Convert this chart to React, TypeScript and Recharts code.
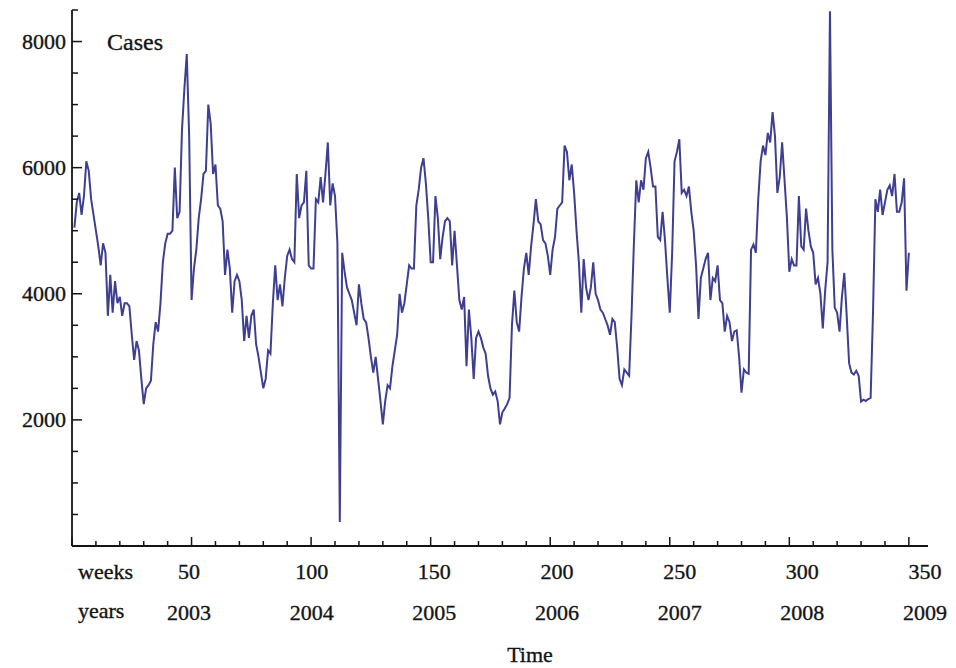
import React from 'react';
import { LineChart, Line, XAxis, YAxis } from 'recharts';

// Weekly cases, weeks 1..350
const cases = [
  5050, 5450, 5600, 5250, 5550, 6100, 5950, 5500, 5250, 5000,
  4750, 4450, 4800, 4650, 3650, 4300, 3700, 4200, 3850, 3950,
  3650, 3850, 3850, 3800, 3350, 2950, 3250, 3100, 2650, 2250,
  2500, 2550, 2620, 3200, 3550, 3400, 3850, 4500, 4800, 4950,
  4950, 5000, 6000, 5200, 5300, 6600, 7250, 7800, 6500, 3900,
  4400, 4700, 5200, 5500, 5900, 5950, 7000, 6700, 5900, 6050,
  5400, 5350, 5150, 4300, 4700, 4400, 3700, 4200, 4300, 4200,
  3900, 3250, 3650, 3300, 3650, 3750, 3200, 3000, 2750, 2500,
  2650, 3100, 3050, 3850, 4450, 3900, 4150, 3800, 4250, 4600,
  4700, 4550, 4500, 5900, 5200, 5400, 5450, 5950, 4450, 4400,
  4400, 5500, 5450, 5850, 5450, 5900, 6400, 5400, 5750, 5550,
  4800, 380, 4650, 4350, 4100, 4000, 3900, 3700, 3500, 4150,
  3850, 3600, 3550, 3300, 3000, 2750, 3000, 2650, 2300, 1930,
  2300, 2550, 2500, 2850, 3100, 3350, 4000, 3700, 3850, 4150,
  4450, 4400, 4400, 5400, 5650, 6000, 6150, 5750, 5200, 4500,
  4500, 5550, 5200, 4550, 4900, 5150, 5200, 5150, 4450, 5000,
  4450, 3900, 3750, 3950, 2850, 3750, 3300, 2650, 3300, 3400,
  3300, 3150, 3050, 2700, 2500, 2400, 2450, 2300, 1930, 2120,
  2180, 2250, 2350, 3500, 4050, 3550, 3400, 3950, 4400, 4650,
  4300, 4750, 5100, 5500, 5150, 5100, 4850, 4800, 4600, 4300,
  4700, 4900, 5350, 5400, 5450, 6350, 6250, 5800, 6050, 5600,
  5000, 4500, 3700, 4550, 4100, 3900, 4100, 4500, 4000, 3900,
  3750, 3700, 3600, 3500, 3350, 3600, 3550, 3150, 2650, 2550,
  2800, 2750, 2700, 3650, 4800, 5800, 5450, 5800, 5650, 6150,
  6250, 6000, 5700, 5700, 4900, 4850, 5300, 4850, 4250, 3700,
  4650, 6100, 6250, 6450, 5600, 5650, 5550, 5700, 5300, 5000,
  4450, 3600, 4250, 4400, 4550, 4650, 3900, 4250, 4200, 4450,
  3900, 3850, 3400, 3650, 3550, 3250, 3400, 3420, 3000, 2430,
  2800, 2750, 2730, 4700, 4780, 4650, 5500, 6100, 6350, 6200,
  6550, 6400, 6880, 6500, 5600, 5850, 6400, 5800, 5200, 4350,
  4550, 4450, 4450, 5550, 4750, 4700, 5350, 5000, 4750, 4650,
  4150, 4250, 4000, 3450, 4050, 4500, 8480, 4700, 3780, 3700,
  3400, 3950, 4330, 3650, 2900, 2750, 2720, 2780, 2700, 2290,
  2320, 2300, 2330, 2350, 3700, 5500, 5300, 5650, 5250, 5450,
  5650, 5720, 5550, 5900, 5300, 5300, 5450, 5830, 4050, 4650,
];

const weeks = cases.map((_, i) => i + 1);

const weekTicks = [
  0, 10, 20, 30, 40, 50, 60, 70, 80, 90, 100, 110, 120, 130, 140, 150, 160, 170,
  180, 190, 200, 210, 220, 230, 240, 250, 260, 270, 280, 290, 300, 310, 320, 330,
  340, 350,
];
const weekLabels = [50, 100, 150, 200, 250, 300, 350];
const yearLabels = ['2003', '2004', '2005', '2006', '2007', '2008', '2009'];

const valueTicks = [
  0, 500, 1000, 1500, 2000, 2500, 3000, 3500, 4000, 4500, 5000, 5500, 6000, 6500,
  7000, 7500, 8000, 8500,
];
const valueLabels = [2000, 4000, 6000, 8000];

const data = weeks.map((w, i) => ({ week: w, cases: cases[i] }));

const FONT = '"Liberation Serif", "Times New Roman", Times, serif';
const INK = '#141414';
const textStyle = { stroke: INK, strokeWidth: 0.35 } as const;

const XTick = (props: any) => {
  const { x, y, payload } = props;
  const v = payload.value as number;
  const major = v % 50 === 0;
  const idx = weekLabels.indexOf(v);
  const dx = -5.7 + 0.0623 * v;
  return (
    <g>
      <line x1={x} y1={y} x2={x} y2={y - (major ? 9 : 5)} stroke={INK} strokeWidth={1.5} />
      {idx >= 0 && (
        <g>
          <text x={x + dx} y={y + 33} textAnchor="middle" fontFamily={FONT} fontSize={22} fill={INK} {...textStyle}>
            {v}
          </text>
          <text x={x + dx} y={y + 74} textAnchor="middle" fontFamily={FONT} fontSize={22} fill={INK} {...textStyle}>
            {yearLabels[idx]}
          </text>
        </g>
      )}
    </g>
  );
};

const YTick = (props: any) => {
  const { x, y, payload } = props;
  const v = payload.value as number;
  const major = v % 2000 === 0;
  return (
    <g>
      <line x1={x} y1={y} x2={x + (major ? 10 : 6)} y2={y} stroke={INK} strokeWidth={1.5} />
      {valueLabels.includes(v) && (
        <text x={x - 6} y={y + 7} textAnchor="end" fontFamily={FONT} fontSize={22} fill={INK} {...textStyle}>
          {v}
        </text>
      )}
    </g>
  );
};

const XLabel = (props: any) => {
  const vb = props.viewBox || { x: 72, y: 546, width: 856, height: 122 };
  return (
    <g>
      <text x={vb.x + 6} y={vb.y + 33} fontFamily={FONT} fontSize={22} fill={INK} {...textStyle}>
        weeks
      </text>
      <text x={vb.x + 6} y={vb.y + 72} fontFamily={FONT} fontSize={22} fill={INK} {...textStyle}>
        years
      </text>
      <text x={vb.x + 458} y={vb.y + 116} textAnchor="middle" fontFamily={FONT} fontSize={22} fill={INK} {...textStyle}>
        Time
      </text>
    </g>
  );
};

const YLabel = (props: any) => {
  const vb = props.viewBox || { x: 0, y: 10, width: 72, height: 536 };
  return (
    <text x={vb.x + vb.width + 35} y={vb.y + 40} fontFamily={FONT} fontSize={24} fill={INK} {...textStyle}>
      Cases
    </text>
  );
};

export default function App() {
  return (
    <div style={{ position: 'absolute', left: 0, top: 0, width: 956, height: 668, background: '#ffffff' }}>
      <LineChart width={956} height={668} data={data} margin={{ top: 10, right: 28, bottom: 0, left: 0 }}>
        <XAxis
          dataKey="week"
          type="number"
          domain={[0, 358]}
          ticks={weekTicks}
          interval={0}
          height={122}
          tickSize={0}
          tickMargin={0}
          tickLine={false}
          axisLine={{ stroke: INK, strokeWidth: 1.8 }}
          tick={<XTick />}
          label={<XLabel />}
        />
        <YAxis
          type="number"
          domain={[0, 8500]}
          ticks={valueTicks}
          interval={0}
          width={72}
          tickSize={0}
          tickMargin={0}
          tickLine={false}
          axisLine={{ stroke: INK, strokeWidth: 1.8 }}
          tick={<YTick />}
          label={<YLabel />}
        />
        <Line
          type="linear"
          dataKey="cases"
          stroke="#3f3f92"
          strokeWidth={2}
          dot={false}
          isAnimationActive={false}
        />
      </LineChart>
    </div>
  );
}
